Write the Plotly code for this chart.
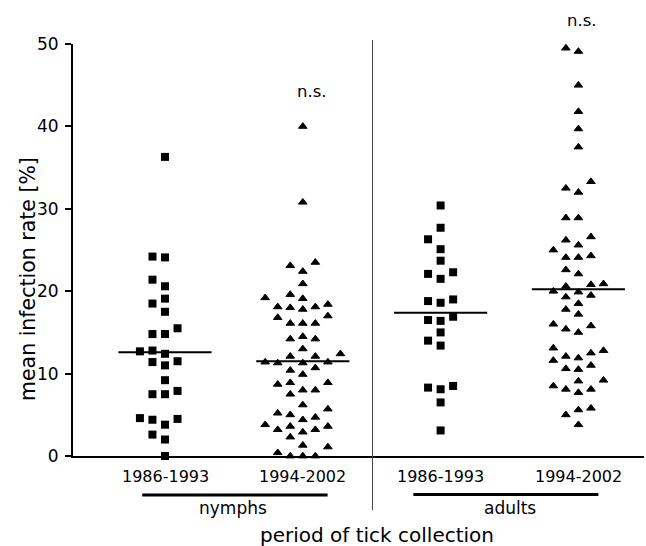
import numpy as np
import plotly.graph_objects as go

# ---------------- data ----------------
categories = ["1986-1993", "1994-2002", "1986-1993", "1994-2002"]
stages = ["nymphs", "adults"]
axis_title_y = "mean infection rate [%]"
axis_title_x = "period of tick collection"
significance = ["", "n.s.", "", "n.s."]

nymphs_1986_1993 = [36.3, 24.2, 24.1, 21.4, 20.6, 19.1, 18.5, 17.5, 15.5, 14.8,
                    14.8, 12.8, 12.7, 12.4, 11.5, 11.4, 11.0, 9.2, 7.9, 7.5,
                    7.5, 4.6, 4.5, 4.4, 3.8, 2.6, 2.0, 0.0]
nymphs_1994_2002 = [40.0, 30.8, 23.5, 23.1, 22.4, 20.9, 19.6, 19.2, 19.1, 18.4,
                    18.1, 18.1, 18.0, 17.8, 17.0, 16.8, 16.1, 16.1, 16.1,
                    14.5, 14.2, 14.2, 13.0, 12.4, 12.1, 12.1, 11.4, 11.4, 11.3,
                    11.3, 10.7, 10.4, 9.9, 8.9, 8.9, 8.7, 8.0, 8.0, 7.5, 6.2,
                    5.7, 5.2, 5.0, 4.7, 4.4, 3.8, 3.6, 3.6, 3.2, 3.2, 2.9, 2.3,
                    1.3, 1.1, 0.4, 0.0, 0.0, 0.0]
adults_1986_1993 = [30.4, 27.7, 26.3, 25.1, 23.7, 22.3, 22.1, 21.5, 19.0, 18.8,
                    18.6, 16.9, 16.5, 16.4, 15.0, 14.0, 13.4, 8.5, 8.3, 8.1,
                    6.5, 3.1]
adults_1994_2002 = [49.5, 49.1, 45.0, 41.8, 39.7, 37.5, 33.3, 32.5, 32.0, 28.9,
                    28.9, 26.6, 26.2, 25.6, 25.0, 24.3, 24.1, 24.1, 22.6, 22.1,
                    20.9, 20.8, 20.6, 20.0, 19.9, 19.5, 19.3, 18.5, 17.8, 17.2,
                    16.0, 15.8, 15.4, 15.0, 13.1, 12.8, 12.5, 12.1, 11.9, 11.6,
                    11.0, 10.6, 10.5, 9.2, 9.1, 8.5, 8.1, 8.1, 7.7, 5.8, 5.6,
                    5.0, 3.8]

groups = [nymphs_1986_1993, nymphs_1994_2002, adults_1986_1993, adults_1994_2002]
symbols = ["square", "triangle-up", "square", "triangle-up"]

# ---------------- helpers ----------------
COL_STEP = 0.091     # horizontal spacing of swarm columns (x units)
MIN_GAP = 1.3        # minimal vertical gap inside one column (y units)
MEAN_HALF = 0.338    # half width of the mean bar


def beeswarm(values, step=COL_STEP, min_gap=MIN_GAP):
    vals = np.asarray(values, dtype=float)
    order = np.argsort(vals, kind="stable")
    placed = {}
    offs = np.zeros(len(vals))
    for idx in order:
        v = vals[idx]
        k = 0
        done = False
        while not done:
            cands = [0] if k == 0 else [-k, k]
            for c in cands:
                if all(abs(v - u) >= min_gap for u in placed.get(c, [])):
                    placed.setdefault(c, []).append(v)
                    offs[idx] = c * step
                    done = True
                    break
            k += 1
    return offs


# plot-area pixel geometry helpers (for decorations only)
PLOT_TOP, PLOT_BOTTOM = 44, 456


def yp(py):
    return (PLOT_BOTTOM - py) / (PLOT_BOTTOM - PLOT_TOP)


FONT = "DejaVu Sans"

fig = go.Figure()

for i, (vals, sym) in enumerate(zip(groups, symbols)):
    pos = i + 1
    offs = beeswarm(vals)
    if sym == "square":
        marker = dict(symbol="square", size=8, color="black")
    else:
        marker = dict(symbol="triangle-up", size=7.5, color="black",
                      line=dict(color="black", width=1))
    fig.add_trace(go.Scatter(
        x=pos + offs, y=vals, mode="markers", marker=marker,
        cliponaxis=False, showlegend=False, hoverinfo="y"))
    m = float(np.mean(vals))
    fig.add_trace(go.Scatter(
        x=[pos - MEAN_HALF, pos + MEAN_HALF], y=[m, m], mode="lines",
        line=dict(color="black", width=2), showlegend=False, hoverinfo="skip"))

annotations = []
for i, lab in enumerate(categories):
    annotations.append(dict(x=i + 1, y=yp(476.5), xref="x", yref="paper",
                            text=lab, showarrow=False, xanchor="center",
                            yanchor="middle", font=dict(size=16, family=FONT, color="black")))
annotations.append(dict(x=1.49, y=yp(508), xref="x", yref="paper", text=stages[0],
                        showarrow=False, xanchor="center", yanchor="middle",
                        font=dict(size=17, family=FONT, color="black")))
annotations.append(dict(x=3.504, y=yp(508), xref="x", yref="paper", text=stages[1],
                        showarrow=False, xanchor="center", yanchor="middle",
                        font=dict(size=17, family=FONT, color="black")))
annotations.append(dict(x=0.533, y=yp(534.5), xref="paper", yref="paper", text=axis_title_x,
                        showarrow=False, xanchor="center", yanchor="middle", borderpad=0,
                        font=dict(size=20, family=FONT, color="black")))
annotations.append(dict(x=-0.0788, y=yp(279), xref="paper", yref="paper", text=axis_title_y,
                        showarrow=False, xanchor="center", yanchor="middle", textangle=-90,
                        font=dict(size=20.5, family=FONT, color="black")))
annotations.append(dict(x=2.065, y=yp(92), xref="x", yref="paper", text=significance[1],
                        showarrow=False, xanchor="center", yanchor="middle",
                        font=dict(size=16.5, family=FONT, color="black")))
annotations.append(dict(x=4.026, y=yp(21), xref="x", yref="paper", text=significance[3],
                        showarrow=False, xanchor="center", yanchor="middle",
                        font=dict(size=16.5, family=FONT, color="black")))

shapes = [
    dict(type="line", xref="x", yref="paper", x0=2.506, x1=2.506,
         y0=yp(510), y1=yp(40), line=dict(color="#444444", width=1)),
    dict(type="line", xref="x", yref="paper", x0=0.835, x1=2.18,
         y0=yp(495), y1=yp(495), line=dict(color="black", width=3)),
    dict(type="line", xref="x", yref="paper", x0=2.802, x1=4.145,
         y0=yp(494.5), y1=yp(494.5), line=dict(color="black", width=3)),
]

fig.update_layout(
    width=646, height=546,
    margin=dict(l=73, r=2, t=PLOT_TOP, b=546 - PLOT_BOTTOM),
    paper_bgcolor="white", plot_bgcolor="white",
    font=dict(family=FONT, color="black"),
    annotations=annotations, shapes=shapes,
    xaxis=dict(range=[0.3324, 4.476], showline=True, linewidth=2, linecolor="black",
               showticklabels=False, ticks="", showgrid=False, zeroline=False,
               layer="below traces"),
    yaxis=dict(range=[0, 50], tickvals=[0, 10, 20, 30, 40, 50], ticks="outside",
               ticklen=6, tickwidth=1.5, tickcolor="black", showline=True,
               linewidth=2, linecolor="black", showgrid=False, zeroline=False,
               tickfont=dict(size=17, family=FONT, color="black"),
               ticklabelstandoff=3, layer="below traces"),
)

fig.write_html(
    "out.html",
    config={"displayModeBar": False},
    post_script="document.body.style.margin='0';document.body.style.overflow='hidden';",
)
